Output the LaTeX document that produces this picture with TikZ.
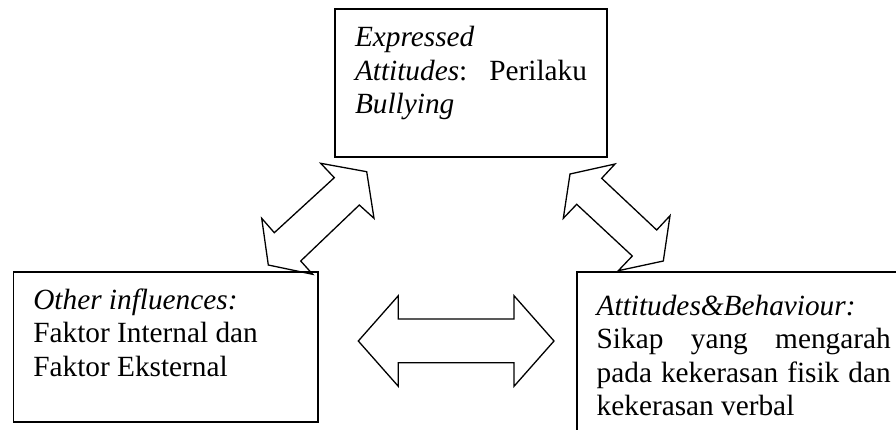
\documentclass[tikz,border=0pt]{standalone}
\usepackage{fontspec}
\setmainfont{Liberation Serif}
\begin{document}
\begin{tikzpicture}[x=1pt,y=-1pt,
  box/.style={draw=black, line width=1.6pt, rectangle, inner sep=0pt, outer sep=0pt},
  blockarrow/.style={draw=black, line width=1.3pt, line join=miter, fill=white},
  txt/.style={inner sep=0pt, outer sep=0pt, anchor=base west, font=\fontsize{29.3}{33.5}\selectfont}]
\useasboundingbox (0,0) rectangle (896,429);
\clip (0,0) rectangle (896,429);
% block arrows
\draw[blockarrow] (320.7,163.3) -- (366.7,171.7) -- (374,218.3) -- (359.3,205) -- (300.7,261)
  -- (312.7,274.3) -- (268.3,265) -- (261.7,218.3) -- (274.3,232.7) -- (334.3,177.7) -- cycle;
\draw[blockarrow] (570,174) -- (615,164) -- (601.7,178.3) -- (656.7,230) -- (670,215.7)
  -- (663.3,261) -- (618.3,270.7) -- (632.3,256) -- (576.7,204.3) -- (563.3,218.3) -- cycle;
\draw[blockarrow] (358.3,341) -- (398.3,295.7) -- (398.3,319) -- (514,319) -- (514,295.7)
  -- (554,341) -- (514,386.3) -- (514,362.7) -- (398.3,362.7) -- (398.3,386.3) -- cycle;
% boxes
\node[box, minimum width=272pt, minimum height=148pt] (topbox) at (471,83) {};
\node[box, minimum width=304.4pt, minimum height=150pt] (leftbox) at (165.5,346.7) {};
\node[box, minimum width=334.3pt, minimum height=168.3pt] (rightbox) at (743.85,355.85) {};
% texts
\node[txt] (toptext) at (355,46.5) {\vtop{\hbox{\textit{Expressed}}\hbox to 232pt{\textit{Attitudes}:\hfil Perilaku}\hbox{\textit{Bullying}}}};
\node[txt] (lefttext) at (33.3,309.3) {\vtop{\hbox{\textit{Other influences:}}\hbox{Faktor Internal dan}\hbox{Faktor Eksternal}}};
\node[txt] (righttext) at (596.7,315) {\vtop{\hbox{\textit{Attitudes\&Behaviour:}}\hbox to 294pt{Sikap\hfil yang\hfil mengarah}\hbox to 294pt{pada\hfil kekerasan\hfil fisik\hfil dan}\hbox{kekerasan verbal}}};
\end{tikzpicture}
\end{document}
